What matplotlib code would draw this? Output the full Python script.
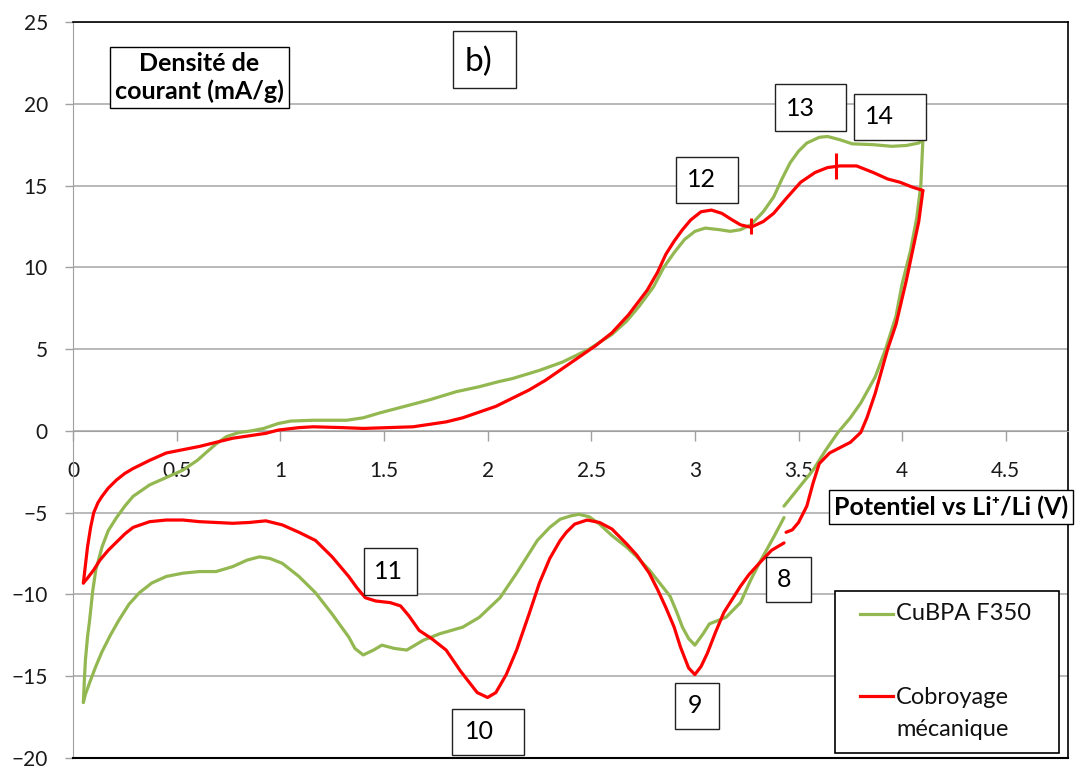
import matplotlib
matplotlib.use('Agg')
import matplotlib.pyplot as plt
from matplotlib.patches import Rectangle
from matplotlib.lines import Line2D

plt.rcParams['font.family'] = ['Lato', 'DejaVu Sans']

# CuBPA F350 - balayage aller (oxydation)
green_fwd_x = [0.05, 0.055, 0.06, 0.07, 0.08, 0.095, 0.11, 0.14, 0.17, 0.21, 0.25, 0.29, 0.37,
               0.45, 0.53, 0.6, 0.64, 0.69, 0.74, 0.8, 0.86, 0.92, 0.99, 1.05, 1.16, 1.32,
               1.4, 1.48, 1.6, 1.72, 1.85, 1.96, 2.05, 2.12, 2.25, 2.36, 2.49, 2.6, 2.67,
               2.73, 2.8, 2.85, 2.9, 2.95, 3.0, 3.05, 3.12, 3.17, 3.22, 3.27, 3.33, 3.38,
               3.42, 3.46, 3.5, 3.54, 3.6, 3.64, 3.7, 3.76, 3.86, 3.95, 4.02, 4.08, 4.1]
green_fwd_y = [-16.6, -15.2, -14.0, -12.6, -11.6, -9.8, -8.5, -7.1, -6.1, -5.3, -4.6, -4.0,
               -3.3, -2.85, -2.4, -1.8, -1.35, -0.8, -0.35, -0.1, 0.0, 0.15, 0.45, 0.6, 0.65,
               0.65, 0.8, 1.1, 1.5, 1.9, 2.4, 2.7, 3.0, 3.2, 3.7, 4.2, 5.0, 5.9, 6.7, 7.6,
               8.8, 10.0, 10.9, 11.7, 12.2, 12.4, 12.3, 12.2, 12.3, 12.6, 13.4, 14.3, 15.4,
               16.4, 17.1, 17.6, 17.95, 18.0, 17.8, 17.55, 17.5, 17.4, 17.45, 17.6, 17.8]
# CuBPA F350 - balayage retour (reduction), deux morceaux
green_rev1_x = [4.1, 4.09, 4.07, 4.04, 4.0, 3.97, 3.92, 3.87, 3.8, 3.75, 3.69, 3.63, 3.57,
                3.5, 3.43]
green_rev1_y = [17.8, 15.0, 13.0, 11.0, 9.0, 7.0, 5.0, 3.3, 1.7, 0.8, -0.1, -1.2, -2.4,
                -3.5, -4.6]
green_rev2_x = [3.43, 3.38, 3.31, 3.27, 3.22, 3.15, 3.07, 3.04, 3.0, 2.97, 2.94, 2.91, 2.88,
                2.83, 2.78, 2.72, 2.67, 2.6, 2.54, 2.49, 2.44, 2.4, 2.35, 2.3, 2.24, 2.2,
                2.14, 2.06, 1.96, 1.88, 1.77, 1.69, 1.61, 1.55, 1.49, 1.45, 1.4, 1.36, 1.33,
                1.29, 1.25, 1.17, 1.09, 1.01, 0.95, 0.9, 0.84, 0.77, 0.69, 0.61, 0.53, 0.45,
                0.38, 0.32, 0.27, 0.22, 0.18, 0.14, 0.11, 0.08, 0.06, 0.05]
green_rev2_y = [-5.3, -6.5, -8.1, -9.1, -10.5, -11.4, -11.8, -12.4, -13.1, -12.7, -12.0,
                -11.0, -10.1, -9.3, -8.5, -7.7, -7.1, -6.4, -5.7, -5.25, -5.1, -5.2, -5.4,
                -5.9, -6.7, -7.5, -8.7, -10.2, -11.4, -12.0, -12.4, -12.8, -13.4, -13.3,
                -13.1, -13.4, -13.7, -13.3, -12.6, -11.9, -11.2, -9.9, -8.9, -8.1, -7.8,
                -7.7, -7.9, -8.3, -8.6, -8.6, -8.7, -8.9, -9.3, -9.9, -10.6, -11.6, -12.5,
                -13.5, -14.4, -15.4, -16.1, -16.6]

# Cobroyage mecanique - aller
red_fwd_x = [0.05, 0.06, 0.07, 0.085, 0.1, 0.12, 0.14, 0.17, 0.21, 0.25, 0.29, 0.37, 0.45,
             0.53, 0.61, 0.69, 0.77, 0.85, 0.93, 0.99, 1.09, 1.16, 1.3, 1.4, 1.52, 1.64,
             1.72, 1.8, 1.88, 1.96, 2.04, 2.12, 2.2, 2.28, 2.36, 2.44, 2.52, 2.6, 2.68,
             2.77, 2.82, 2.86, 2.9, 2.94, 2.98, 3.03, 3.08, 3.13, 3.18, 3.22, 3.27, 3.33,
             3.38, 3.44, 3.51, 3.58, 3.64, 3.7, 3.78, 3.86, 3.93, 3.99, 4.05, 4.1]
red_fwd_y = [-9.3, -8.2, -7.1, -5.9, -5.0, -4.4, -4.0, -3.5, -3.0, -2.6, -2.3, -1.8, -1.35,
             -1.15, -0.95, -0.7, -0.45, -0.3, -0.15, 0.05, 0.2, 0.25, 0.2, 0.15, 0.2, 0.25,
             0.4, 0.55, 0.8, 1.15, 1.5, 2.0, 2.5, 3.1, 3.8, 4.5, 5.2, 6.0, 7.1, 8.6, 9.7,
             10.8, 11.6, 12.3, 12.9, 13.4, 13.5, 13.3, 12.9, 12.6, 12.45, 12.8, 13.3, 14.2,
             15.2, 15.8, 16.1, 16.2, 16.2, 15.8, 15.4, 15.2, 14.9, 14.7]
# Cobroyage mecanique - retour
red_rev1_x = [4.1, 4.08, 4.05, 4.02, 3.97, 3.93, 3.87, 3.83, 3.8, 3.75, 3.65, 3.6, 3.57,
              3.54, 3.5, 3.47, 3.44]
red_rev1_y = [14.7, 12.8, 11.0, 9.2, 6.5, 5.0, 2.3, 0.8, -0.1, -0.7, -1.35, -2.0, -3.2,
              -4.6, -5.6, -6.05, -6.2]
red_rev2_x = [3.43, 3.37, 3.31, 3.26, 3.22, 3.18, 3.14, 3.1, 3.06, 3.03, 3.0, 2.97, 2.93,
              2.9, 2.86, 2.82, 2.78, 2.72, 2.67, 2.6, 2.54, 2.48, 2.42, 2.38, 2.35, 2.3,
              2.25, 2.2, 2.14, 2.09, 2.04, 2.0, 1.95, 1.87, 1.8, 1.73, 1.67, 1.62, 1.58,
              1.53, 1.46, 1.41, 1.37, 1.33, 1.25, 1.17, 1.09, 1.01, 0.93, 0.85, 0.77, 0.69,
              0.61, 0.53, 0.45, 0.37, 0.29, 0.25, 0.21, 0.17, 0.13, 0.1, 0.07, 0.05]
red_rev2_y = [-6.85, -7.3, -8.1, -8.8, -9.5, -10.3, -11.1, -12.3, -13.6, -14.4, -14.9, -14.5,
              -13.2, -12.0, -10.8, -9.7, -8.7, -7.6, -6.9, -6.0, -5.6, -5.45, -5.7, -6.2,
              -6.7, -7.8, -9.3, -11.2, -13.4, -14.9, -16.0, -16.3, -16.0, -14.7, -13.4,
              -12.7, -12.2, -11.3, -10.7, -10.5, -10.4, -10.2, -9.6, -8.9, -7.7, -6.7, -6.2,
              -5.75, -5.5, -5.6, -5.65, -5.6, -5.55, -5.45, -5.45, -5.55, -5.9, -6.3, -6.8,
              -7.3, -7.9, -8.5, -9.0, -9.3]

# reperes traces a la main sur la courbe rouge
cursor_x = [3.27, 3.68]
cursor_y = [12.5, 16.2]
cursor_size = [11, 19]

# etiquettes (position du texte) : pics + "b)"
peak_labels = ['8', '9', '10', '11', '12', '13', '14', 'b)']
peak_x = [3.43, 3.0, 1.96, 1.52, 3.03, 3.51, 3.89, 1.955]
peak_y = [-9.1, -16.76, -18.4, -8.6, 15.35, 19.7, 19.2, 22.55]
# cadres des etiquettes : centre (donnees) et taille (pixels), police
frame_x = [3.45, 3.01, 2.0, 1.53, 3.06, 3.56, 3.94, 1.983]
frame_y = [-9.1, -16.8, -18.4, -8.6, 15.35, 19.75, 19.2, 22.68]
frame_w = [45, 44, 72, 53, 62, 71, 72, 63]
frame_h = [45, 46, 46, 47, 46, 47, 46, 57]
label_size = [18, 18, 18, 18, 18, 18, 18, 24]

GREEN = '#93B851'
RED = '#FF0000'
W, H = 1077, 766

fig = plt.figure(figsize=(W / 100, H / 100), dpi=100)
ax = fig.add_axes([73 / W, 8 / H, (1068 - 73) / W, (758 - 22) / H])
XMAX, YMIN, YMAX = 4.8, -20, 25
px_x = XMAX / (1068 - 73)           # unites x par pixel
px_y = (YMAX - YMIN) / (758 - 22)   # unites y par pixel

ax.plot(green_fwd_x, green_fwd_y, color=GREEN, lw=2.3, solid_capstyle='round', zorder=3)
ax.plot(green_rev1_x, green_rev1_y, color=GREEN, lw=2.3, solid_capstyle='round', zorder=3)
ax.plot(green_rev2_x, green_rev2_y, color=GREEN, lw=2.3, solid_capstyle='round', zorder=3)
ax.plot(red_fwd_x, red_fwd_y, color=RED, lw=2.3, solid_capstyle='round', zorder=4)
ax.plot(red_rev1_x, red_rev1_y, color=RED, lw=2.3, solid_capstyle='round', zorder=4)
ax.plot(red_rev2_x, red_rev2_y, color=RED, lw=2.3, solid_capstyle='round', zorder=4)
for cx, cy, cs in zip(cursor_x, cursor_y, cursor_size):
    ax.plot([cx], [cy], marker='|', ms=cs, mew=2.2, color=RED, zorder=4)

ax.set_xlim(0, XMAX)
ax.set_ylim(YMIN, YMAX)
ax.set_xticks([0, 0.5, 1, 1.5, 2, 2.5, 3, 3.5, 4, 4.5])
ax.set_xticklabels(['0', '0.5', '1', '1.5', '2', '2.5', '3', '3.5', '4', '4.5'])
ax.set_yticks(range(-20, 26, 5))
ax.yaxis.grid(True, color='#a6a6a6', lw=1.1)
ax.set_axisbelow(True)

ax.spines['bottom'].set_position(('data', 0))
ax.spines['bottom'].set_color('#a0a0a0')
ax.spines['left'].set_color('#a0a0a0')
for s in ['top', 'right']:
    ax.spines[s].set_color('black')
    ax.spines[s].set_linewidth(1.2)
ax.axhline(-20, color='black', lw=1.5, zorder=5, clip_on=False)

ax.tick_params(axis='x', direction='out', length=7, width=1, color='#a0a0a0',
               labelsize=15, labelcolor='#1a1a1a', pad=15)
ax.tick_params(axis='y', direction='out', length=6, width=1, color='#a0a0a0',
               labelsize=15, labelcolor='#1a1a1a', pad=12)

for lab, tx, ty, fx, fy, fw, fh, fs in zip(peak_labels, peak_x, peak_y, frame_x,
                                           frame_y, frame_w, frame_h, label_size):
    w, h = fw * px_x, fh * px_y
    ax.add_patch(Rectangle((fx - w / 2, fy - h / 2), w, h, fc='white', ec='#222222',
                           lw=1, zorder=6, clip_on=False))
    ax.text(tx, ty, lab, fontsize=fs, ha='center', va='center', zorder=7)

ax.text(0.61, 21.6, 'Densité de\ncourant (mA/g)', fontsize=18, fontweight='bold',
        ha='center', va='center', linespacing=1.25, zorder=6,
        bbox=dict(boxstyle='square,pad=0.2', fc='white', ec='black', lw=1))
ax.text(3.67, -4.65, 'Potentiel vs Li\u207a/Li (V)', fontsize=18, fontweight='bold',
        ha='left', va='center', zorder=6, clip_on=False,
        bbox=dict(boxstyle='square,pad=0.2', fc='white', ec='black', lw=1))

# legende dessinee a la main (la ligne rouge est au niveau de la premiere ligne du texte)
fig.patches.append(Rectangle((835 / W, 1 - 753 / H), (1059 - 835) / W, (753 - 591) / H,
                             transform=fig.transFigure, fc='white', ec='black', lw=1.2,
                             zorder=10))
fig.lines.append(Line2D([860 / W, 893 / W], [1 - 614 / H, 1 - 614 / H], color=GREEN, lw=2.3,
                        transform=fig.transFigure, zorder=11))
fig.lines.append(Line2D([860 / W, 893 / W], [1 - 696 / H, 1 - 696 / H], color=RED, lw=2.3,
                        transform=fig.transFigure, zorder=11))
fig.text(896 / W, 1 - 614 / H, 'CuBPA F350', fontsize=17, va='center', ha='left',
         color='#111111', zorder=12)
fig.text(896 / W, 1 - 697 / H, 'Cobroyage', fontsize=17, va='center', ha='left',
         color='#111111', zorder=12)
fig.text(896 / W, 1 - 730 / H, 'mécanique', fontsize=17, va='center', ha='left',
         color='#111111', zorder=12)

fig.savefig('out.png', dpi=100, facecolor='white')
